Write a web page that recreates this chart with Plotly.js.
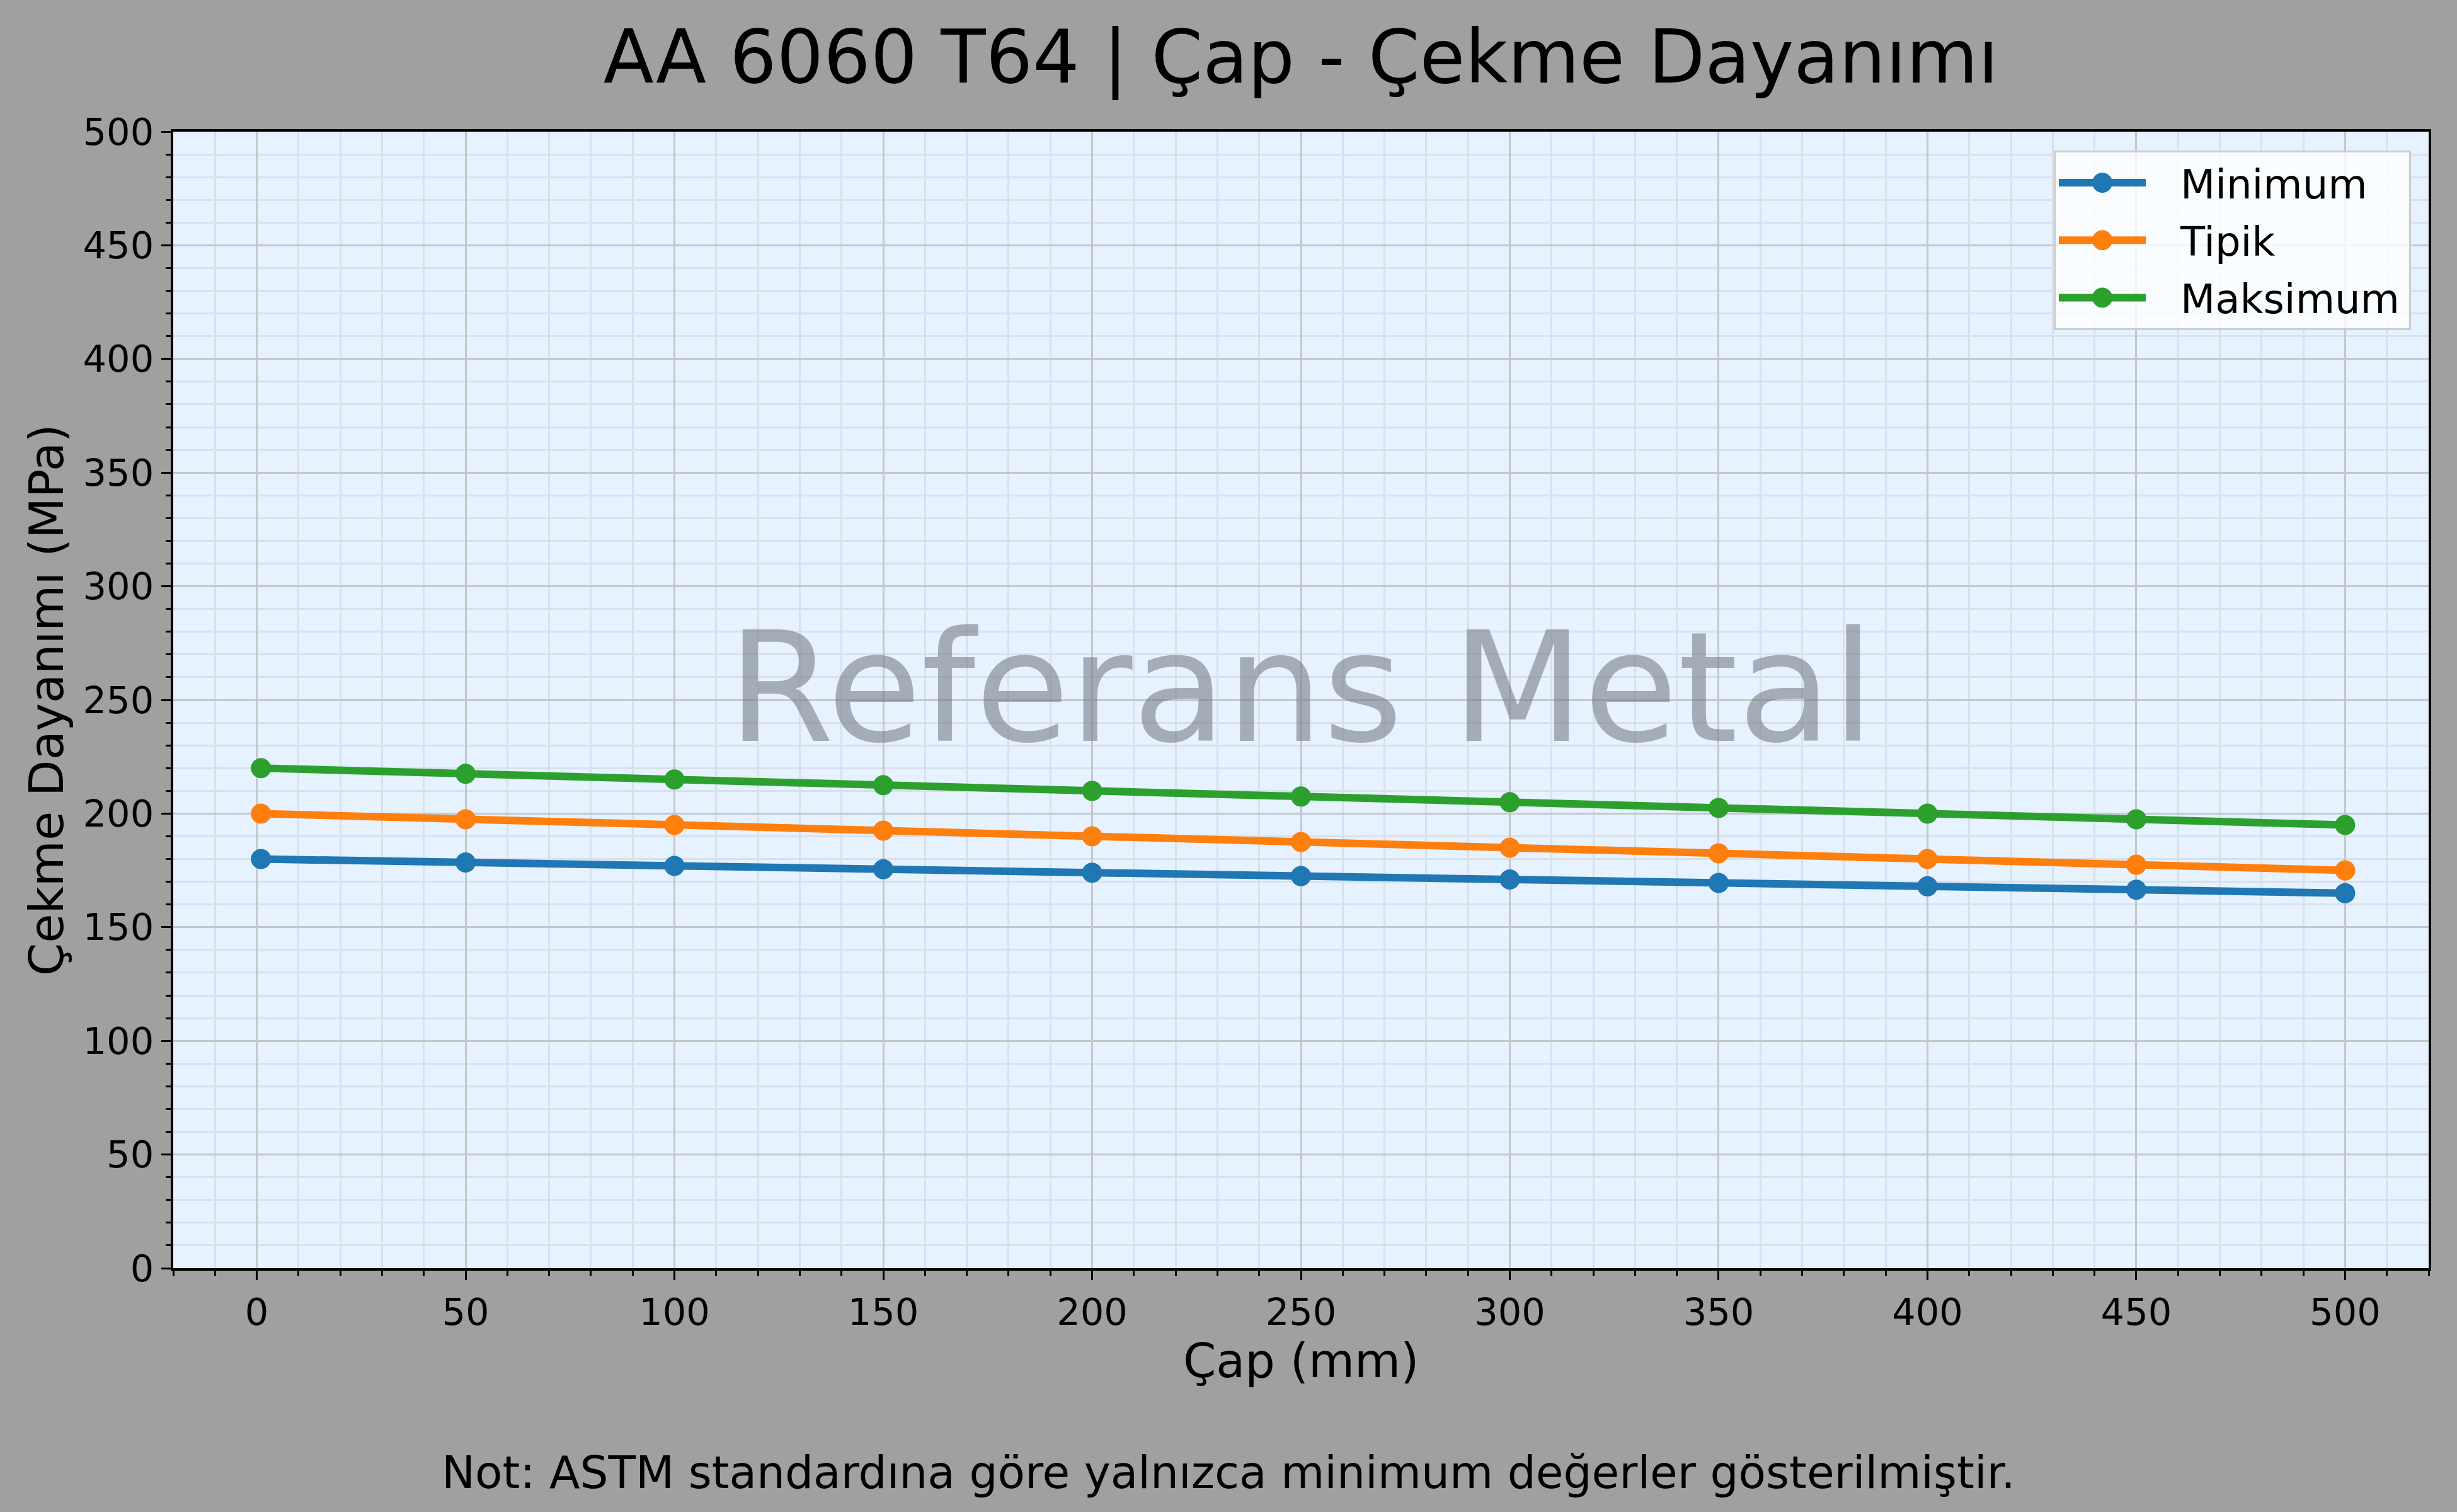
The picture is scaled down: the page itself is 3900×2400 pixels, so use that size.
<!DOCTYPE html>
<html>
<head>
<meta charset="utf-8">
<script src="https://cdn.plot.ly/plotly-3.0.1.min.js"></script>
<style>
  html, body { margin: 0; padding: 0; background: #a0a0a0; }
  #chart { width: 3900px; height: 2400px; }
</style>
</head>
<body>
<div id="chart"></div>
<script>
  // diameter (mm)
  var diameters = [1, 50, 100, 150, 200, 250, 300, 350, 400, 450, 500];
  // tensile strength (MPa)
  var minimum = [180, 178.5, 177, 175.5, 174, 172.5, 171, 169.5, 168, 166.5, 165];
  var tipik = [200, 197.5, 195, 192.5, 190, 187.5, 185, 182.5, 180, 177.5, 175];
  var maksimum = [220, 217.5, 215, 212.5, 210, 207.5, 205, 202.5, 200, 197.5, 195];

  var seriesNames = ['Minimum', 'Tipik', 'Maksimum'];
  var seriesColors = ['#1f77b4', '#ff7f0e', '#2ca02c'];
  var seriesValues = [minimum, tipik, maksimum];

  var titleText = 'AA 6060 T64 | Çap - Çekme Dayanımı';
  var xLabel = 'Çap (mm)';
  var yLabel = 'Çekme Dayanımı (MPa)';
  var watermark = 'Referans Metal';
  var footnote = 'Not: ASTM standardına göre yalnızca minimum değerler gösterilmiştir.';

  var data = seriesValues.map(function (vals, i) {
    return {
      x: diameters,
      y: vals,
      name: seriesNames[i],
      legendgroup: 'g' + i,
      mode: 'lines+markers',
      line: {color: seriesColors[i], width: 12},
      marker: {color: seriesColors[i], size: 32}
    };
  });

  var axisCommon = {
    showline: true,
    linecolor: '#000000',
    linewidth: 4,
    mirror: true,
    ticks: 'outside',
    ticklen: 15,
    tickwidth: 3,
    tickcolor: '#000000',
    tickfont: {size: 59, color: '#000000'},
    showgrid: true,
    gridcolor: '#c4c7cb',
    gridwidth: 3,
    zeroline: false,
    minor: {
      dtick: 10,
      ticks: 'outside',
      ticklen: 8,
      tickwidth: 3,
      tickcolor: '#000000',
      showgrid: true,
      gridcolor: '#d8e0ea',
      gridwidth: 3
    }
  };

  var layout = {
    width: 3900,
    height: 2400,
    paper_bgcolor: '#a0a0a0',
    plot_bgcolor: '#e6f2ff',
    font: {family: 'DejaVu Sans, sans-serif', color: '#000000'},
    margin: {l: 275, r: 45, t: 209, b: 387},
    title: {
      text: titleText,
      font: {size: 117},
      x: 0.5, xref: 'paper', xanchor: 'center',
      y: 1 - 90 / 2400, yref: 'container', yanchor: 'middle'
    },
    xaxis: Object.assign({}, axisCommon, {
      range: [-20, 520],
      dtick: 50,
      tick0: 0
    }),
    yaxis: Object.assign({}, axisCommon, {
      range: [0, 500],
      dtick: 50,
      tick0: 0,
      title: {text: yLabel, font: {size: 75}, standoff: 7}
    }),
    showlegend: true,
    legend: {
      x: 0.8338, y: 0.9834, xanchor: 'left', yanchor: 'top',
      bgcolor: 'rgba(255,255,255,0.8)',
      bordercolor: '#cccccc',
      borderwidth: 3,
      font: {size: 64},
      itemwidth: 138,
      tracegroupgap: 5
    },
    annotations: [
      {
        // x axis title, placed by hand just under the tick labels
        text: xLabel,
        xref: 'paper', yref: 'paper',
        x: 0.5, y: (2013 - 2160) / 1804,
        xanchor: 'center', yanchor: 'middle',
        borderpad: 0,
        showarrow: false,
        font: {size: 75}
      },
      {
        text: watermark,
        xref: 'paper', yref: 'paper',
        x: 0.5, y: 0.511,
        xanchor: 'center', yanchor: 'middle',
        showarrow: false,
        font: {size: 243, color: 'rgba(120,125,135,0.6)'}
      },
      {
        text: footnote,
        xref: 'paper', yref: 'paper',
        x: (1950 - 275) / 3580, y: (2013 - 2337) / 1804,
        xanchor: 'center', yanchor: 'middle',
        showarrow: false,
        font: {size: 71}
      }
    ]
  };

  Plotly.newPlot('chart', data, layout, {displayModeBar: false}).then(function (gd) {
    // plotly clamps legend symbols; enlarge them to match the plotted marks
    var r = 16;
    gd.querySelectorAll('.legend .legendpoints path.scatterpts').forEach(function (p) {
      p.setAttribute('d', 'M' + r + ',0A' + r + ',' + r + ' 0 1,1 0,-' + r +
        'A' + r + ',' + r + ' 0 0,1 ' + r + ',0Z');
    });
    gd.querySelectorAll('.legend .legendlines path').forEach(function (p) {
      p.style.strokeWidth = '12px';
    });
    var shift = 50;
    gd.querySelectorAll('.legend text.legendtext').forEach(function (t) {
      t.setAttribute('x', parseFloat(t.getAttribute('x') || 0) + shift);
    });
    var bg = gd.querySelector('.legend rect.bg');
    if (bg) bg.setAttribute('width', parseFloat(bg.getAttribute('width')) + shift + 10);
    document.querySelectorAll('clipPath[id^="legend"] rect').forEach(function (c) {
      c.setAttribute('width', parseFloat(c.getAttribute('width')) + shift + 10);
    });
  });
</script>
</body>
</html>
